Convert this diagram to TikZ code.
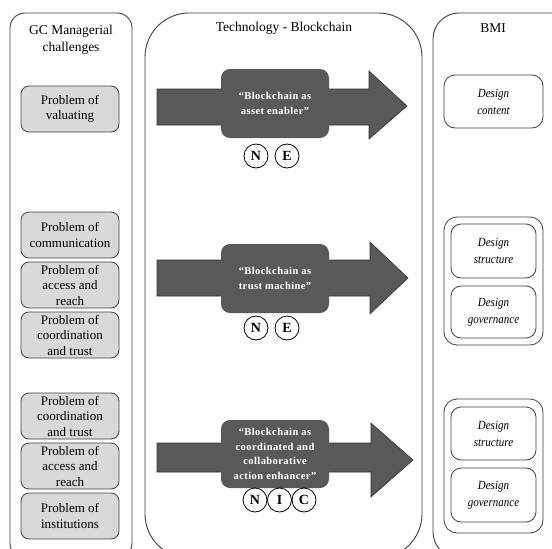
\documentclass[tikz,border=0pt]{standalone}
\usepackage{fontspec}
\setmainfont{Liberation Serif}
\newfontfamily\arrowfont[LetterSpace=4]{Liberation Serif}
\newfontfamily\desfont[FakeStretch=0.88]{Liberation Serif}
\definecolor{edge}{HTML}{404040}
\definecolor{probfill}{HTML}{D9D9D9}
\definecolor{arrowfill}{HTML}{595959}
\tikzset{
  column/.style={draw=edge, line width=0.9pt, fill=white},
  probbox/.style={draw=edge, line width=0.8pt, fill=probfill, rounded corners=8pt,
    minimum width=98pt, minimum height=46pt, align=center, inner sep=0pt,
    font=\fontsize{13}{15.5}\selectfont},
  arrowshape/.style={draw=black!80, line width=0.6pt, fill=arrowfill},
  arrowbox/.style={fill=arrowfill, rounded corners=9pt, minimum width=108pt,
    inner sep=0pt, align=center, text=white,
    font=\arrowfont\bfseries\fontsize{10.5}{14.5}\selectfont},
  letter/.style={circle, draw=black, line width=0.8pt, fill=white, minimum size=24pt,
    inner sep=0pt, font=\bfseries\fontsize{14}{14}\selectfont},
  designbox/.style={draw=edge, line width=0.8pt, fill=white, rounded corners=10pt,
    minimum width=85pt, align=center, inner sep=0pt,
    font=\desfont\itshape\fontsize{12.5}{17}\selectfont},
  outerbox/.style={draw=edge, line width=0.8pt, fill=white, rounded corners=13pt,
    minimum width=99pt, inner sep=0pt},
  title/.style={align=center, font=\fontsize{13.5}{17}\selectfont}
}
\begin{document}
\begin{tikzpicture}[x=1pt,y=-1pt]
\useasboundingbox (0,0) rectangle (552,549);
\clip (0,0) rectangle (552,549);

% columns
\draw[column, rounded corners=15pt] (10,13) rectangle (132,558);
\draw[column, rounded corners=44pt] (145,13) rectangle (422,558);
\draw[column, rounded corners=26pt] (433,13) rectangle (590,558);

% titles
\node[title] (tGC) at (71,40) {GC Managerial\\challenges};
\node[title] (tTech) at (284,28) {Technology - Blockchain};
\node[title] (tBMI) at (493,28) {BMI};

% left problem boxes
\node[probbox] (p1) at (70,109) {Problem of\\valuating};
\node[probbox] (p2) at (70,235) {Problem of\\communication};
\node[probbox] (p3) at (70,285) {Problem of\\access and\\reach};
\node[probbox] (p4) at (70,335) {Problem of\\coordination\\and trust};
\node[probbox] (p5) at (70,416) {Problem of\\coordination\\and trust};
\node[probbox] (p6) at (70,466) {Problem of\\access and\\reach};
\node[probbox] (p7) at (70,516) {Problem of\\institutions};

% arrows
\draw[arrowshape] (157,89) -- (369,89) -- (369,71) -- (407,106) -- (369,139) -- (369,125) -- (157,125) -- cycle;
\draw[arrowshape] (157,260) -- (370,260) -- (370,242) -- (408,278) -- (370,314) -- (370,296) -- (157,296) -- cycle;
\draw[arrowshape] (157,443) -- (371,443) -- (371,423) -- (413,460) -- (371,497) -- (371,472) -- (157,472) -- cycle;

\node[arrowbox, minimum height=69pt] (a1) at (275,103.5) {“Blockchain as\\asset enabler”};
\node[arrowbox, minimum height=69pt] (a2) at (275,278.5) {“Blockchain as\\trust machine”};
\node[arrowbox, minimum height=68pt] (a3) at (275,454) {“Blockchain as\\coordinated and\\collaborative\\action enhancer”};

% letters
\node[letter] (n1) at (256,156) {N};
\node[letter] (e1) at (287,156) {E};
\node[letter] (n2) at (256,328) {N};
\node[letter] (e2) at (287,328) {E};
\node[letter] (n3) at (255,500) {N};
\node[letter] (i3) at (279.5,500) {I};
\node[letter] (c3) at (304,500) {C};

% right design boxes
\node[outerbox, minimum width=99pt, minimum height=53pt, rounded corners=11pt, align=center,
  font=\desfont\itshape\fontsize{12.5}{17}\selectfont] (d1) at (493.5,101.5) {Design\\content};
\node[outerbox, minimum height=128pt] (g2) at (493.5,281) {};
\node[designbox, minimum height=54pt] (d2) at (493.5,251) {Design\\structure};
\node[designbox, minimum height=52pt] (d3) at (493.5,312) {Design\\governance};
\node[outerbox, minimum height=134pt] (g3) at (493.5,466) {};
\node[designbox, minimum height=53pt] (d4) at (493.5,433.5) {Design\\structure};
\node[designbox, minimum height=54pt] (d5) at (493.5,495) {Design\\governance};
\end{tikzpicture}
\end{document}
